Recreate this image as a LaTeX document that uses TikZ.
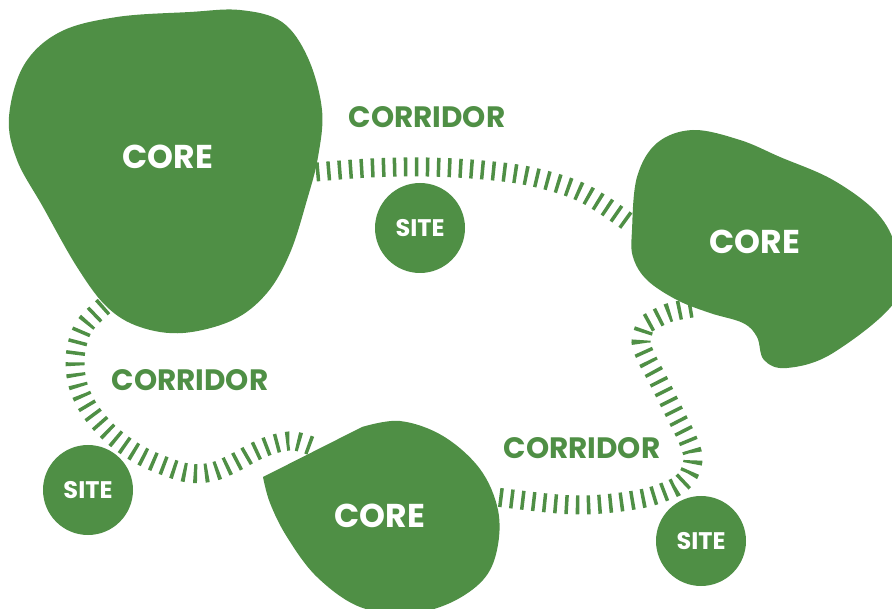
\documentclass[tikz,border=0pt]{standalone}
\usepackage{fontspec}
\setmainfont{Poppins}
\definecolor{leaf}{RGB}{79,143,69}
\begin{document}
\begin{tikzpicture}[x=1pt,y=-1pt,
  corridor/.style={draw=leaf, line width=19pt, dash pattern=on 3.5pt off 7.5pt},
  blob/.style={fill=leaf},
  corelabel/.style={text=white, font=\bfseries\fontsize{33}{33}\selectfont, inner sep=0pt},
  sitecircle/.style={circle, fill=leaf, minimum size=90pt, inner sep=0pt, text=white, font=\bfseries\fontsize{24}{24}\selectfont},
  corridorlabel/.style={text=leaf, font=\bfseries\fontsize{29.5}{29.5}\selectfont, inner sep=0pt}]
\useasboundingbox (0,0) rectangle (892,609);

% corridor end points
\coordinate (c1a) at (316,172);
\coordinate (c2a) at (628,222);
\coordinate (c1b) at (104,306);
\coordinate (c3a) at (314,447);
\coordinate (c2b) at (692,308);
\coordinate (c3b) at (496,497);

% corridors (drawn below the cores)
\draw[corridor] plot[smooth, tension=0.6] coordinates
  {(c1a) (370,168) (427,167) (483,170) (533,177) (583,193) (c2a)};
\draw[corridor] plot[smooth, tension=0.6] coordinates
  {(c1b) (85,325) (77,345) (75,365) (78,385) (86,404) (98,421) (115,438) (138,454) (162,465) (188,473) (212,472) (234,463) (254,452) (274,444) (294,441) (c3a)};
\draw[corridor] plot[smooth, tension=0.5] coordinates
  {(c2b) (668,313) (646,324)}
  -- plot[smooth, tension=0.6] coordinates
  {(646,324) (641,342) (647,359) (657,378) (667,398) (677,418) (687,438) (693,457) (689,474) (679,485) (664,492) (645,498) (613,503) (580,505) (547,503) (c3b)};

% cores
\fill[blob] plot[smooth cycle, tension=0.6] coordinates
  {(9,117) (24,65) (60,32) (117,17) (190,12) (240,10) (282,22) (308,58) (322,110) (318,157) (307,200) (290,253) (267,293) (233,320) (183,333) (140,327) (107,307) (77,267) (43,207) (17,160)};
\fill[blob] plot[smooth cycle, tension=0.6] coordinates
  {(632,230) (637,177) (657,143) (693,130) (740,140) (780,157) (833,180) (877,213) (896,250) (896,300) (833,353) (787,368) (764,360) (757,337) (743,323) (710,313) (677,300) (647,280) (633,257)};
\fill[blob] (263,477) -- (362,427) -- plot[smooth, tension=0.6] coordinates
  {(362,427) (400,421) (443,436) (480,469) (498,510) (497,550) (483,580) (450,603) (410,613) (360,607) (317,577) (287,537) (270,503) (263,477)} -- cycle;

\node[corelabel] (core1) at (168,157) {CORE};
\node[corelabel] (core2) at (755,242) {CORE};
\node[corelabel] (core3) at (380,516) {CORE};

% sites
\node[sitecircle] (site1) at (420,228) {SITE};
\node[sitecircle] (site2) at (88,490) {SITE};
\node[sitecircle] (site3) at (701,541) {SITE};

% corridor labels
\node[corridorlabel] (lab1) at (427,117) {CORRIDOR};
\node[corridorlabel] (lab2) at (190,380) {CORRIDOR};
\node[corridorlabel] (lab3) at (582,448) {CORRIDOR};
\end{tikzpicture}
\end{document}
